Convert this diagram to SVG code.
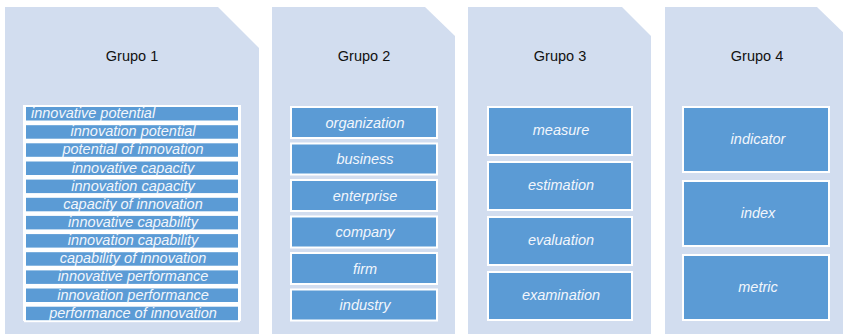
<svg xmlns="http://www.w3.org/2000/svg" width="843" height="335" viewBox="0 0 843 335">
<style>
.panel{fill:#D2DDEF}
.title{font-family:"Liberation Sans",Arial,sans-serif;font-size:14.5px;fill:#111;text-anchor:middle}
.row{fill:#5B9BD5;stroke:#fff;stroke-width:2}
.lbl{font-family:"Liberation Sans",Arial,sans-serif;font-size:14.5px;font-style:italic;fill:#F2F6FC;text-anchor:middle}
</style>
<rect width="843" height="335" fill="#fff"/>
<g id="grupo1">
<polygon class="panel" points="5,7 218,7 259,48 259,334 5,334"/>
<text class="title" x="132" y="61">Grupo 1</text>
<rect x="23" y="105" width="218" height="216" fill="#fff"/>
<g>
<rect class="row" x="25" y="106" width="214" height="15.5"/>
<rect class="row" x="25" y="124.2" width="214" height="15.5"/>
<rect class="row" x="25" y="142.3" width="214" height="15.5"/>
<rect class="row" x="25" y="160.5" width="214" height="15.5"/>
<rect class="row" x="25" y="178.6" width="214" height="15.5"/>
<rect class="row" x="25" y="196.8" width="214" height="15.5"/>
<rect class="row" x="25" y="214.9" width="214" height="15.5"/>
<rect class="row" x="25" y="233.1" width="214" height="15.5"/>
<rect class="row" x="25" y="251.2" width="214" height="15.5"/>
<rect class="row" x="25" y="269.4" width="214" height="15.5"/>
<rect class="row" x="25" y="287.5" width="214" height="15.5"/>
<rect class="row" x="25" y="305.7" width="214" height="15.5"/>
</g>
<text class="lbl" x="31" y="118" style="text-anchor:start">innovative potential</text>
<text class="lbl" x="133" y="136.2">innovation potential</text>
<text class="lbl" x="133" y="154.3">potential of innovation</text>
<text class="lbl" x="133" y="172.5">innovative capacity</text>
<text class="lbl" x="133" y="190.6">innovation capacity</text>
<text class="lbl" x="133" y="208.8">capacity of innovation</text>
<text class="lbl" x="133" y="226.9">innovative capability</text>
<text class="lbl" x="133" y="245.1">innovation capability</text>
<text class="lbl" x="133" y="263.2">capability of innovation</text>
<text class="lbl" x="133" y="281.4">innovative performance</text>
<text class="lbl" x="133" y="299.5">innovation performance</text>
<text class="lbl" x="133" y="317.7">performance of innovation</text>
</g>
<g id="grupo2">
<polygon class="panel" points="272,7 425,7 455,36 455,334 272,334"/>
<text class="title" x="364" y="61">Grupo 2</text>
<rect class="row" x="291" y="107" width="146" height="31"/>
<rect class="row" x="291" y="143.5" width="146" height="31"/>
<rect class="row" x="291" y="180" width="146" height="31"/>
<rect class="row" x="291" y="216.5" width="146" height="31"/>
<rect class="row" x="291" y="253" width="146" height="31"/>
<rect class="row" x="291" y="289.5" width="146" height="31"/>
<text class="lbl" x="365" y="127.5">organization</text>
<text class="lbl" x="365" y="164">business</text>
<text class="lbl" x="365" y="200.5">enterprise</text>
<text class="lbl" x="365" y="237">company</text>
<text class="lbl" x="365" y="273.5">firm</text>
<text class="lbl" x="365" y="310">industry</text>
</g>
<g id="grupo3">
<polygon class="panel" points="468,7 622,7 651,36 651,334 468,334"/>
<text class="title" x="560" y="61">Grupo 3</text>
<rect class="row" x="488" y="107" width="144" height="48"/>
<rect class="row" x="488" y="162" width="144" height="48"/>
<rect class="row" x="488" y="217" width="144" height="48"/>
<rect class="row" x="488" y="272" width="144" height="48"/>
<text class="lbl" x="561" y="135">measure</text>
<text class="lbl" x="561" y="190">estimation</text>
<text class="lbl" x="561" y="245">evaluation</text>
<text class="lbl" x="561" y="300">examination</text>
</g>
<g id="grupo4">
<polygon class="panel" points="665,7 817,7 848,37 848,334 665,334"/>
<text class="title" x="757" y="61">Grupo 4</text>
<rect class="row" x="683" y="107" width="146" height="65"/>
<rect class="row" x="683" y="181" width="146" height="65"/>
<rect class="row" x="683" y="255" width="146" height="65"/>
<text class="lbl" x="758" y="144">indicator</text>
<text class="lbl" x="758" y="218">index</text>
<text class="lbl" x="758" y="292">metric</text>
</g>
<g id="connectors"/>
</svg>
